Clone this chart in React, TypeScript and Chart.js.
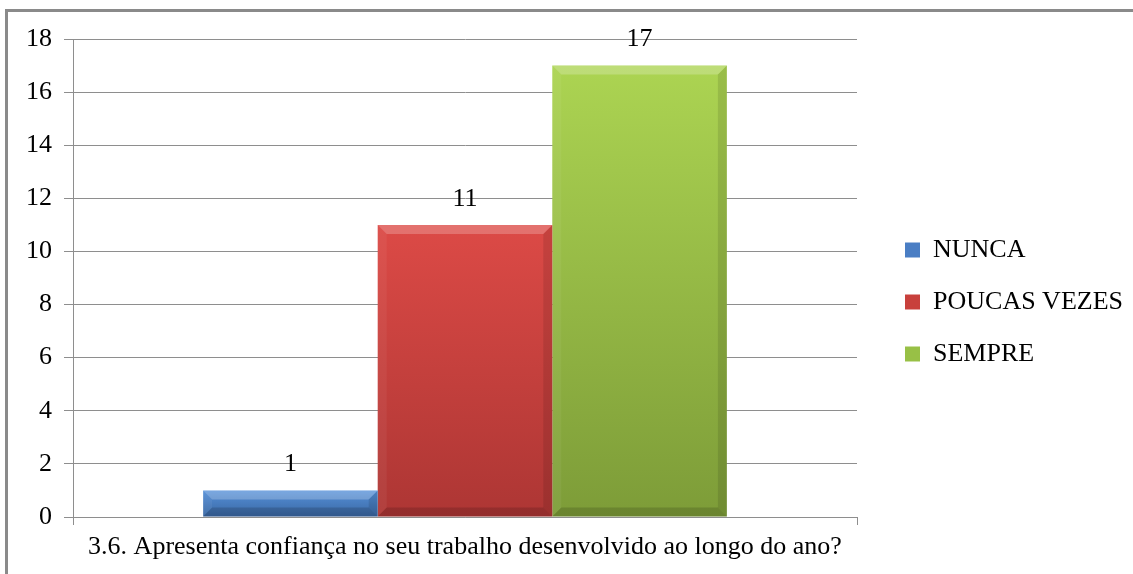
import React, { useEffect, useRef } from "react";
import { Chart, registerables } from "chart.js";

Chart.register(...registerables);

const categories = ["3.6. Apresenta confiança no seu trabalho desenvolvido ao longo do ano?"];
const seriesNames = ["NUNCA", "POUCAS VEZES", "SEMPRE"];
const nunca = [1];
const poucasVezes = [11];
const sempre = [17];
const seriesValues = [nunca, poucasVezes, sempre];
const baseColors = ["#4a7ec4", "#c8403c", "#98c046"];
const topColors = ["#5590d8", "#dc4a46", "#acd452"];
const bottomColors = ["#3a67a3", "#ad3634", "#7d9c38"];
const yTicks = [0, 2, 4, 6, 8, 10, 12, 14, 16, 18];

const FONT = '"Times New Roman", "Liberation Serif", Tinos, serif';
const FS = 26;

Chart.defaults.font.family = FONT;
Chart.defaults.font.size = FS;
Chart.defaults.color = "#000000";

const framePlugin = {
  id: "frame",
  beforeDraw(chart: any) {
    const ctx = chart.ctx;
    ctx.save();
    ctx.fillStyle = "#ffffff";
    ctx.fillRect(0, 0, chart.width, chart.height);
    ctx.strokeStyle = "#8a8a8a";
    ctx.lineWidth = 3;
    ctx.beginPath();
    ctx.moveTo(6.5, chart.height);
    ctx.lineTo(6.5, 10.5);
    ctx.lineTo(chart.width, 10.5);
    ctx.stroke();
    ctx.restore();
  },
};

const bevelPlugin = {
  id: "bevel",
  afterDatasetsDraw(chart: any) {
    const ctx = chart.ctx;
    ctx.save();
    chart.data.datasets.forEach((ds: any, di: number) => {
      const meta = chart.getDatasetMeta(di);
      meta.data.forEach((el: any, i: number) => {
        const { x, y, base, width } = el.getProps(["x", "y", "base", "width"], true);
        const l = x - width / 2;
        const r = x + width / 2;
        const t = Math.min(y, base);
        const b = Math.max(y, base);
        const d = Math.min(9, (b - t) / 2);
        ctx.fillStyle = "rgba(255,255,255,0.22)";
        ctx.beginPath();
        ctx.moveTo(l, t);
        ctx.lineTo(r, t);
        ctx.lineTo(r - d, t + d);
        ctx.lineTo(l + d, t + d);
        ctx.closePath();
        ctx.fill();
        ctx.fillStyle = "rgba(255,255,255,0.05)";
        ctx.beginPath();
        ctx.moveTo(l, t);
        ctx.lineTo(l + d, t + d);
        ctx.lineTo(l + d, b - d);
        ctx.lineTo(l, b);
        ctx.closePath();
        ctx.fill();
        ctx.fillStyle = "rgba(0,0,0,0.1)";
        ctx.beginPath();
        ctx.moveTo(r, t);
        ctx.lineTo(r - d, t + d);
        ctx.lineTo(r - d, b - d);
        ctx.lineTo(r, b);
        ctx.closePath();
        ctx.fill();
        ctx.fillStyle = "rgba(0,0,0,0.15)";
        ctx.beginPath();
        ctx.moveTo(l, b);
        ctx.lineTo(r, b);
        ctx.lineTo(r - d, b - d);
        ctx.lineTo(l + d, b - d);
        ctx.closePath();
        ctx.fill();
        const v = ds.data[i];
        ctx.fillStyle = "#000000";
        ctx.font = `${FS}px ${FONT}`;
        ctx.textAlign = "center";
        ctx.textBaseline = "middle";
        ctx.fillText(String(v), x, t - 26);
      });
    });
    ctx.restore();
  },
};

export default function App() {
  const ref = useRef<HTMLCanvasElement | null>(null);

  useEffect(() => {
    let chart: any = null;
    let cancelled = false;
    const build = () => {
      if (cancelled || !ref.current || chart) return;
      chart = new Chart(ref.current, {
        type: "bar",
        data: {
          labels: categories,
          datasets: seriesNames.map((name, i) => ({
            label: name,
            data: seriesValues[i],
            backgroundColor: (c: any) => {
              const chartObj = c.chart;
              const ys = chartObj.scales && chartObj.scales.y;
              const v = c.raw;
              if (!ys || typeof v !== "number") return baseColors[i];
              const top = ys.getPixelForValue(v);
              const bot = ys.getPixelForValue(0);
              if (!isFinite(top) || !isFinite(bot) || !(bot > top)) return baseColors[i];
              const g = chartObj.ctx.createLinearGradient(0, top, 0, bot);
              g.addColorStop(0, topColors[i]);
              g.addColorStop(1, bottomColors[i]);
              return g;
            },
            borderWidth: 0,
            categoryPercentage: 0.668,
            barPercentage: 1,
          })),
        },
        options: {
          animation: false,
          responsive: false,
          layout: { padding: { top: 39, left: 0, right: 0, bottom: 9 } },
          plugins: {
            tooltip: { enabled: false },
            legend: {
              position: "right",
              maxWidth: 400,
              labels: {
                boxWidth: 15,
                boxHeight: 15,
                padding: 26,
                color: "#000000",
                font: { family: FONT, size: FS },
                generateLabels: (ch: any) =>
                  ch.data.datasets.map((ds: any, i: number) => ({
                    text: ds.label,
                    fillStyle: baseColors[i],
                    strokeStyle: baseColors[i],
                    lineWidth: 0,
                    hidden: false,
                    datasetIndex: i,
                    fontColor: "#000000",
                  })),
              },
            },
          },
          scales: {
            x: {
              grid: {
                display: true,
                drawOnChartArea: false,
                drawTicks: true,
                tickLength: 8,
                color: "#8e8e8e",
              },
              border: { display: true, color: "#8e8e8e" },
              ticks: { color: "#000000", font: { family: FONT, size: FS }, padding: 7, maxRotation: 0, autoSkip: false },
              afterFit: (s: any) => {
                s.height = 48;
              },
            },
            y: {
              min: 0,
              max: 18,
              afterBuildTicks: (s: any) => {
                s.ticks = yTicks.map((v) => ({ value: v }));
              },
              grid: { color: "#8e8e8e", tickLength: 9, drawTicks: true },
              border: { display: true, color: "#8e8e8e" },
              ticks: { color: "#000000", font: { family: FONT, size: FS }, padding: 12 },
              afterFit: (s: any) => {
                s.width = 73;
              },
            },
            y2: {
              position: "right",
              display: true,
              min: 0,
              max: 18,
              grid: { display: false, drawTicks: false },
              border: { display: false },
              ticks: { display: false },
              afterFit: (s: any) => {
                const lg = s.chart && s.chart.legend;
                const lw = lg && isFinite(lg.width) && lg.width > 0 ? lg.width : 268;
                s.width = Math.max(0, 1133 - lw - 857);
              },
            },
          },
        },
        plugins: [framePlugin, bevelPlugin],
      } as any);
    };
    const timer = setTimeout(build, 300);
    return () => {
      cancelled = true;
      clearTimeout(timer);
      if (chart) chart.destroy();
      chart = null;
    };
  }, []);

  return (
    <div style={{ position: "absolute", left: 0, top: 0, width: 1133, height: 574, overflow: "hidden" }}>
      <div style={{ position: "absolute", left: 0, top: 0, fontFamily: "Times New Roman, Liberation Serif", fontSize: 20, color: "#ffffff" }}>
        NUNCA POUCAS VEZES SEMPRE 0123456789
      </div>
      <canvas ref={ref} width={1133} height={574} style={{ position: "absolute", left: 0, top: 0 }} />
    </div>
  );
}
